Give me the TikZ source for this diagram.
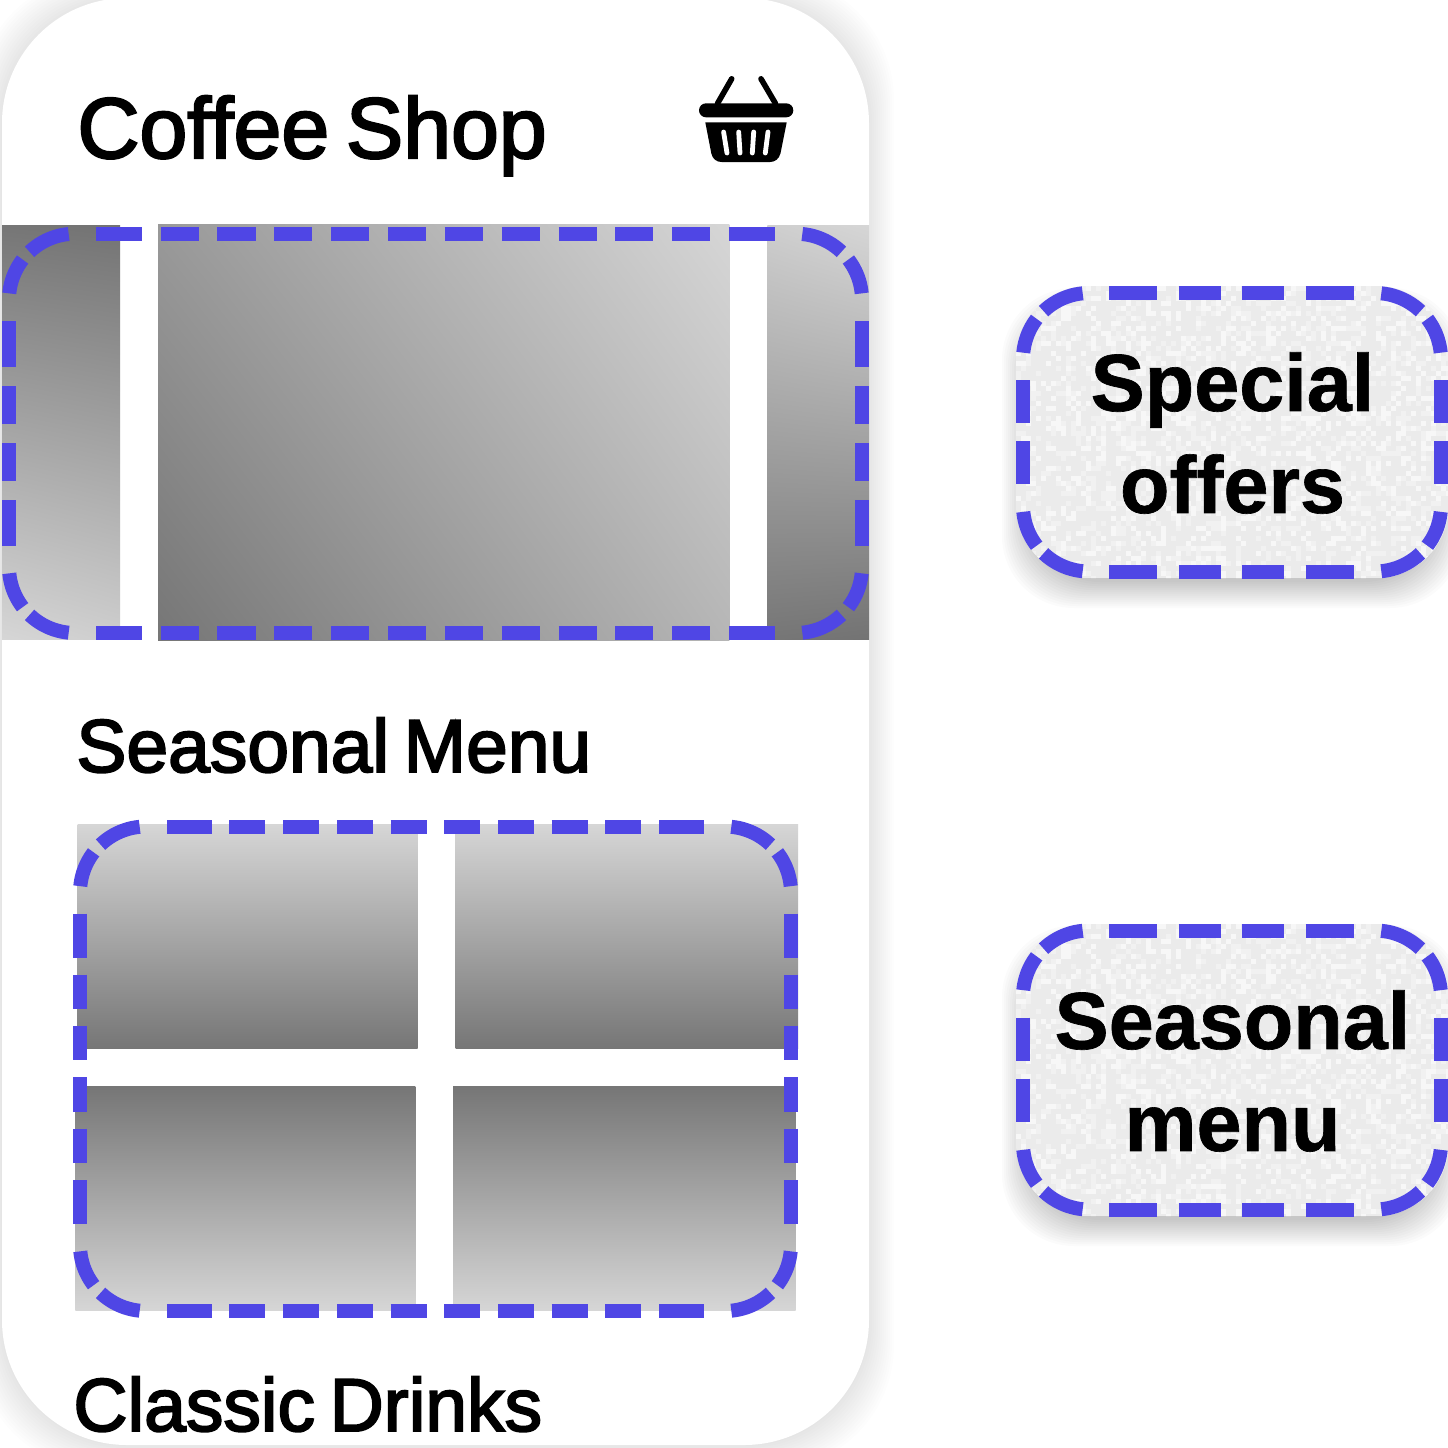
\documentclass[tikz,border=0pt]{standalone}
\usepackage{fontspec}
\usetikzlibrary{shadings}
\setmainfont{Liberation Sans}
\newfontfamily\medfont[FakeBold=2.6,WordSpace=0.7]{Liberation Sans}
\newfontfamily\tagfont[UprightFont={* Bold},FakeBold=0.8]{Liberation Sans}
\definecolor{dashblue}{HTML}{4F46E5}
\definecolor{gdark}{HTML}{767676}
\definecolor{glight}{HTML}{D6D6D6}
\definecolor{gdarker}{HTML}{737373}
\definecolor{glighter}{HTML}{CECECE}
\definecolor{gmidA}{HTML}{999999}
\definecolor{gmidB}{HTML}{B6B6B6}
\definecolor{tagbase}{HTML}{EBEBEB}
\newcommand{\CornerDash}[4]{%
  \draw[dashline] plot[domain=5.5:37.5,samples=12] ({#1+#3*66*cos(\x)},{#2+#4*66*sin(\x)});
  \draw[dashline] plot[domain=46.5:84.5,samples=12] ({#1+#3*66*cos(\x)},{#2+#4*66*sin(\x)});
}
\newcommand{\DashOutline}[6]{%
  \foreach \a/\b in {#5}{\draw[dashline] (\a,#2) -- (\b,#2); \draw[dashline] (\a,#4) -- (\b,#4);}
  \foreach \a/\b in {#6}{\draw[dashline] (#1,\a) -- (#1,\b); \draw[dashline] (#3,\a) -- (#3,\b);}
  \pgfmathsetmacro{\cl}{#1+66}\pgfmathsetmacro{\cr}{#3-66}
  \pgfmathsetmacro{\ct}{#2+66}\pgfmathsetmacro{\cb}{#4-66}
  \CornerDash{\cl}{\ct}{-1}{-1}\CornerDash{\cr}{\ct}{1}{-1}
  \CornerDash{\cl}{\cb}{-1}{1}\CornerDash{\cr}{\cb}{1}{1}
}
\newcommand{\TagBack}[2]{%
  \foreach \e in {14,12,...,-12}{
    \fill[black,opacity=0.016,rounded corners=36pt] (1016-\e,#1+16-\e) rectangle (1448+\e,#2+16+\e);
  }
  \begin{scope}
    \clip[rounded corners=36.5pt] (1016,#1) rectangle (1449,#2);
    \fill[tagbase] (1016,#1) rectangle (1449,#2);
    \pgfmathsetseed{17}
    \foreach \i in {0,...,86}{\foreach \j in {0,...,58}{
      \pgfmathrandominteger{\rr}{0}{9}
      \ifnum\rr<2 \fill[white!60!tagbase] (1016+\i*5,#1+\j*5) rectangle +(5,5);
      \else\ifnum\rr<4 \fill[white!30!tagbase] (1016+\i*5,#1+\j*5) rectangle +(5,5);\fi\fi
    }}
  \end{scope}
}
\tikzset{
  dashline/.style={draw=dashblue,line width=7pt,line cap=butt,line join=round},
  heading/.style={anchor=base west,inner sep=0pt,font=\medfont\fontsize{43}{50}\selectfont},
  subheading/.style={anchor=base west,inner sep=0pt,font=\medfont\fontsize{37.5}{44}\selectfont},
  taglabel/.style={anchor=center,inner sep=0pt,align=center,font=\tagfont\fontsize{40.5}{51}\selectfont},
  slot/.style={draw=white,line width=2.4pt,line cap=round},
  handle/.style={draw=black,line width=2.8pt,line cap=round}
}
\begin{document}
\begin{tikzpicture}[x=0.5pt,y=-0.5pt]
\useasboundingbox (0,0) rectangle (1448,1448);
\fill[white] (0,0) rectangle (1448,1448);
% phone shadow and body
\foreach \e in {1,3,...,25}{
  \fill[black,opacity=0.006,rounded corners=62.5pt] (2-\e,0-\e) rectangle (869+\e,1445+\e);
}
\fill[white,rounded corners=62.5pt] (2,-2) rectangle (869,1445);
% band images
\shade[upper left=gdark,upper right=gdarker,lower left=glight,lower right=glighter] (2,225) rectangle (120,639);
\shade[upper left=gmidA,upper right=glight,lower left=gdark,lower right=gmidB] (158,224.5) rectangle (729.3,640);
\shade[upper left=glighter,upper right=glight,lower left=gdark,lower right=gdarker] (767.3,225) rectangle (869,639);
% grid images
\shade[top color=glight,bottom color=gdark] (77.7,824.3) rectangle (417.7,1048.7);
\shade[top color=glight,bottom color=gdark] (455.7,824.3) rectangle (798,1048.7);
\shade[top color=gdark,bottom color=glight] (75.3,1086.3) rectangle (415.3,1310.7);
\shade[top color=gdark,bottom color=glight] (453,1086.3) rectangle (795.7,1310.7);
% titles
\node[heading] (title) at (77,158) {Coffee Shop};
\node[subheading] (seasonal) at (76,772) {Seasonal Menu};
\node[subheading] (classic) at (73,1431) {Classic Drinks};
% basket icon
\draw[handle] (717.5,103.5) -- (731.7,78.8);
\draw[handle] (775.5,103.5) -- (761,78.8);
\fill[black,rounded corners=3.5pt] (699,103.3) rectangle (793.3,117.3);
\fill[black] (705.3,122.3) -- (786.7,122.3) -- (780.5,153.3) .. controls (779,159) and (775,162) .. (770,162) -- (721.7,162) .. controls (716.5,162) and (712.5,159) .. (711.3,153.3) -- cycle;
\draw[slot] (723.6,132) -- (727,153);
\draw[slot] (738.7,132) -- (740,153);
\draw[slot] (753.7,132) -- (752.3,153);
\draw[slot] (768,132) -- (765.3,153);
% tags
\TagBack{286}{578}
\TagBack{923.5}{1216}
\node[taglabel] (tagone) at (1232.5,433) {Special\\offers};
\node[taglabel] (tagtwo) at (1232.5,1071) {Seasonal\\menu};
% dashed outlines
\DashOutline{9}{233.7}{862}{633}
  {96/142,161/199,217.3/255.5,274/312.3,331/369,388/426,444.7/483,501.7/540,558.5/596.7,615.3/653.3,672/710,728.7/774.7}
  {321/366.7,386/423.7,443/481,500/546}
\DashOutline{80}{826.5}{791}{1311}
  {167/211.7,229.3/265.3,283/319,337/372.7,390.7/426.7,444.3/480.3,498/534,551.7/587.7,605.3/641.3,659/704}
  {913.7/957.7,974.7/1009,1026/1060.3,1077.3/1111.7,1128.7/1163,1180/1223.7}
\DashOutline{1023}{293}{1441}{571.5}
  {1109.3/1157.3,1178.7/1220.7,1242/1284.3,1305.7/1353.7}
  {380/423.3,441.3/484.3}
\DashOutline{1023}{930.5}{1441}{1209.5}
  {1109.3/1157.3,1178.7/1220.7,1242/1284.3,1305.7/1353.7}
  {1017.7/1061,1078.7/1122}
\end{tikzpicture}
\end{document}
